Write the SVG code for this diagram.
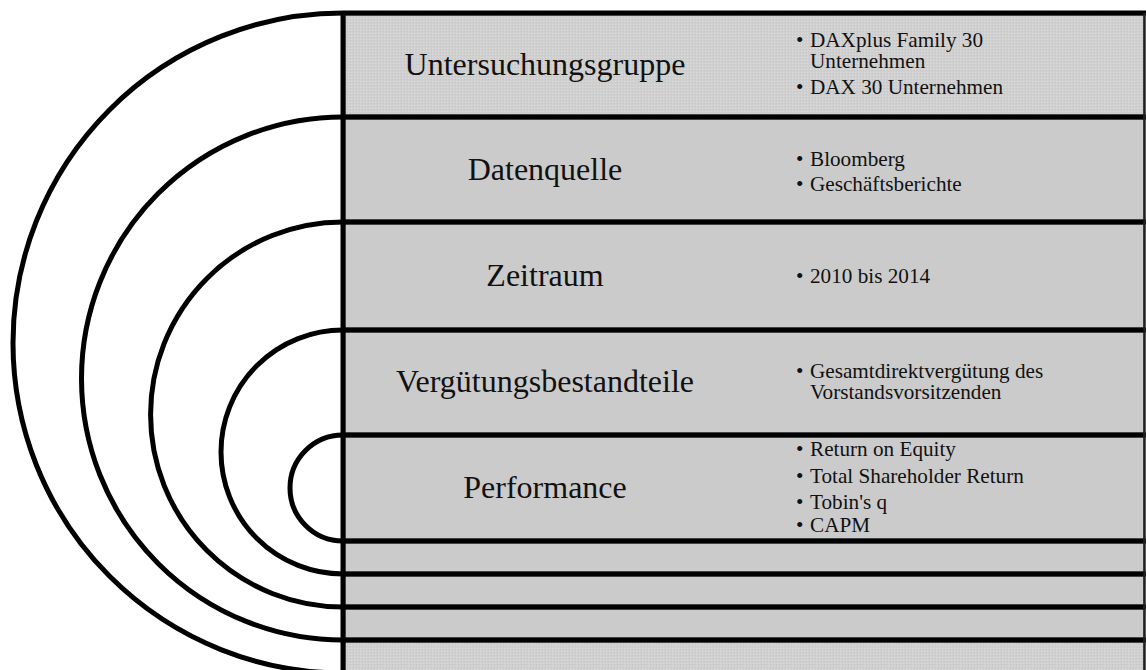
<svg xmlns="http://www.w3.org/2000/svg" width="1146" height="670" viewBox="0 0 1146 670">
<defs>
<pattern id="dots" width="3" height="3" patternUnits="userSpaceOnUse">
<rect width="3" height="3" fill="#d0d0d0"/>
<rect x="0" y="0" width="1" height="1" fill="#dcdcdc"/>
<rect x="2" y="1" width="1" height="1" fill="#c6c6c6"/>
</pattern>
<style>
.band{fill:#cbcbcb;stroke:#555;stroke-width:1.2}
.bandp{fill:url(#dots);stroke:#555;stroke-width:1.2}
.ln{fill:none;stroke:#000;stroke-width:5}
.t{font-family:"Liberation Serif","Times New Roman",serif;font-size:32px;fill:#111;text-anchor:middle}
.b{font-family:"Liberation Serif","Times New Roman",serif;font-size:21.2px;fill:#111}
</style>
</defs>
<rect width="1146" height="670" fill="#fff"/>
<g id="band1">
<rect class="bandp" x="345" y="15" width="799" height="100"/>
<text class="t" x="545" y="75">Untersuchungsgruppe</text>
<text class="b"><tspan x="796" y="47">•</tspan><tspan x="810" y="47">DAXplus Family 30</tspan><tspan x="810" y="68">Unternehmen</tspan><tspan x="796" y="94">•</tspan><tspan x="810" y="94">DAX 30 Unternehmen</tspan></text>
</g>
<g id="band2">
<rect class="band" x="345" y="119" width="799" height="101"/>
<text class="t" x="545" y="180">Datenquelle</text>
<text class="b"><tspan x="796" y="166">•</tspan><tspan x="810" y="166">Bloomberg</tspan><tspan x="796" y="191">•</tspan><tspan x="810" y="191">Geschäftsberichte</tspan></text>
</g>
<g id="band3">
<rect class="band" x="345" y="224" width="799" height="104"/>
<text class="t" x="545" y="286">Zeitraum</text>
<text class="b"><tspan x="796" y="283">•</tspan><tspan x="810" y="283">2010 bis 2014</tspan></text>
</g>
<g id="band4">
<rect class="band" x="345" y="332" width="799" height="101"/>
<text class="t" x="545" y="392">Vergütungsbestandteile</text>
<text class="b"><tspan x="796" y="378">•</tspan><tspan x="810" y="378">Gesamtdirektvergütung des</tspan><tspan x="810" y="399">Vorstandsvorsitzenden</tspan></text>
</g>
<g id="band5">
<rect class="band" x="345" y="437" width="799" height="102"/>
<text class="t" x="545" y="498">Performance</text>
<text class="b"><tspan x="796" y="456">•</tspan><tspan x="810" y="456">Return on Equity</tspan><tspan x="796" y="482.5">•</tspan><tspan x="810" y="482.5">Total Shareholder Return</tspan><tspan x="796" y="509">•</tspan><tspan x="810" y="509">Tobin's q</tspan><tspan x="796" y="532">•</tspan><tspan x="810" y="532">CAPM</tspan></text>
</g>
<g id="band6"><rect class="band" x="345" y="543" width="799" height="29"/></g>
<g id="band7"><rect class="band" x="345" y="576" width="799" height="29"/></g>
<g id="band8"><rect class="band" x="345" y="609" width="799" height="29"/></g>
<g id="band9"><rect class="bandp" x="345" y="642" width="799" height="40"/></g>
<g id="connectors">
<path class="ln" d="M1146 13 H343 A330 330 0 0 0 343 673 H1146"/>
<path class="ln" d="M1146 117 H343 A261.5 261.5 0 0 0 343 640 H1146"/>
<path class="ln" d="M1146 222 H343 A192.5 192.5 0 0 0 343 607 H1146"/>
<path class="ln" d="M1146 330 H343 A122 122 0 0 0 343 574 H1146"/>
<path class="ln" d="M1146 435 H343 A53 53 0 0 0 343 541 H1146"/>
<line class="ln" x1="343" y1="11" x2="343" y2="670"/>
<line x1="1144.5" y1="13" x2="1144.5" y2="670" stroke="#222" stroke-width="2.5"/>
</g>
</svg>
